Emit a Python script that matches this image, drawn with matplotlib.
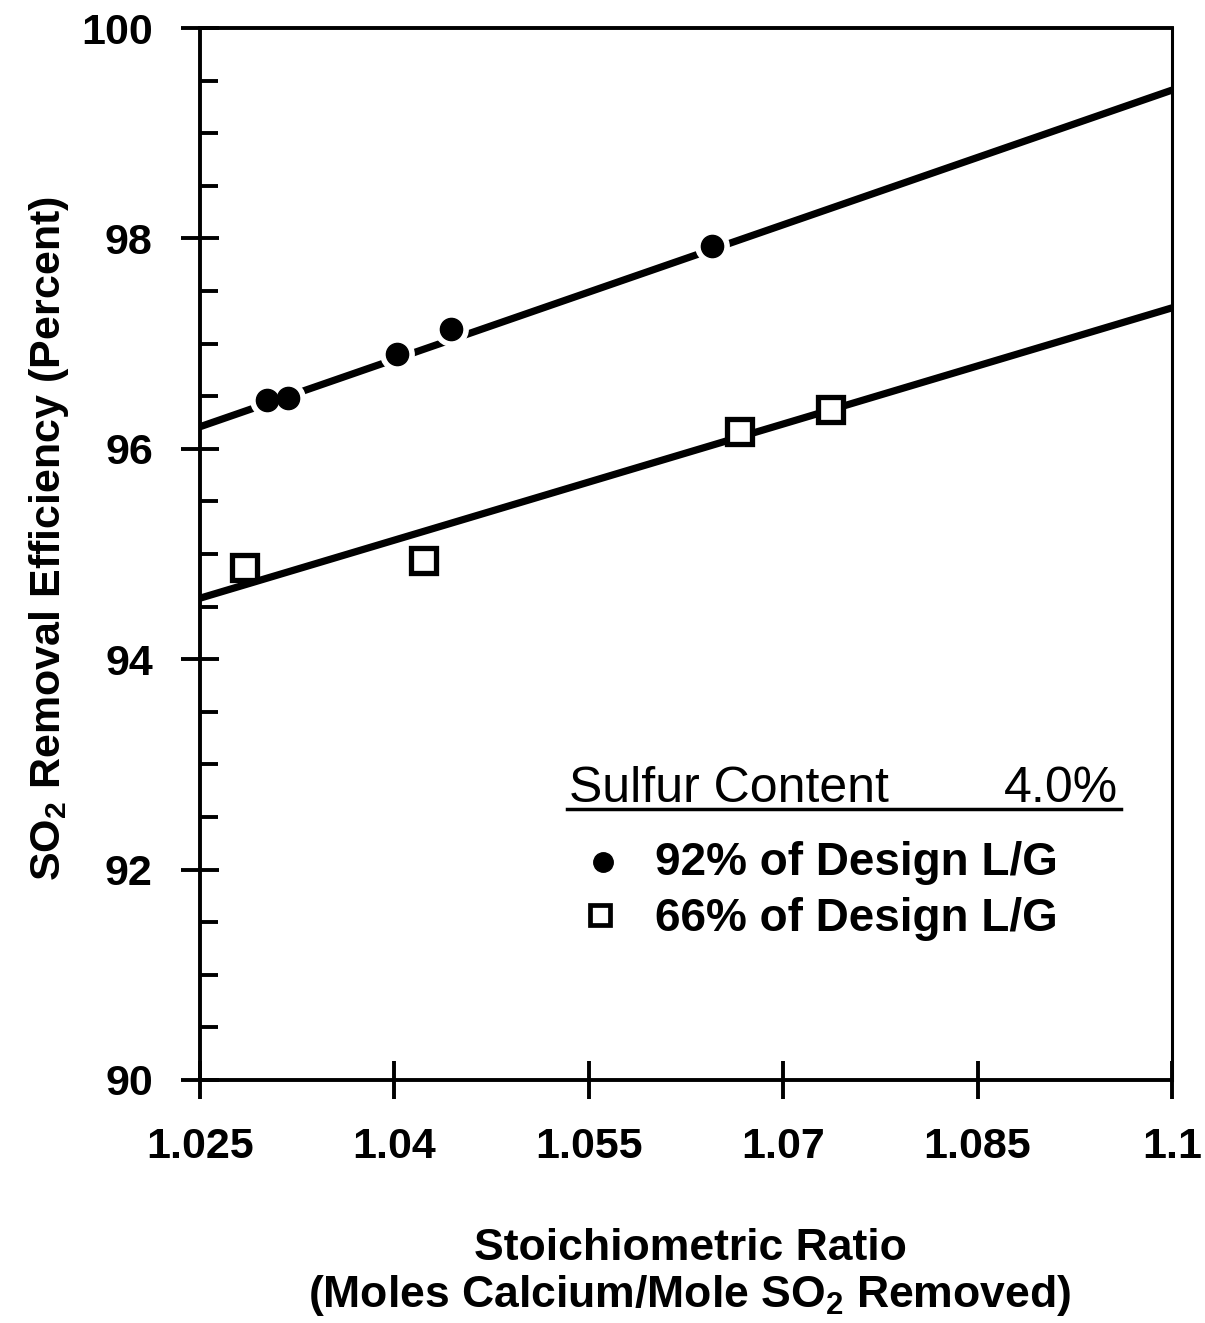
import matplotlib
matplotlib.use("Agg")
import matplotlib.pyplot as plt
from matplotlib.ticker import MultipleLocator, FixedLocator

plt.rcParams['font.family'] = ['Liberation Sans', 'DejaVu Sans']

# Measured points
ratio_92 = [1.0302, 1.0318, 1.0402, 1.0444, 1.0645]
eff_92 = [96.46, 96.48, 96.90, 97.14, 97.93]
ratio_66 = [1.0284, 1.0422, 1.0666, 1.0736]
eff_66 = [94.88, 94.94, 96.17, 96.38]

# Fitted lines (end points across the axis range)
fit_x = [1.025, 1.1]
fit_92 = [96.21, 99.41]
fit_66 = [94.58, 97.34]

x_ticks = [1.025, 1.04, 1.055, 1.07, 1.085, 1.1]
x_tick_labels = ["1.025", "1.04", "1.055", "1.07", "1.085", "1.1"]
y_ticks = [90, 92, 94, 96, 98, 100]

fig = plt.figure(figsize=(12.05, 13.23), dpi=100)
ax = fig.add_axes([0.166, 0.1837, 0.8066, 0.7951])

ax.plot(fit_x, fit_92, color='black', lw=5.2, solid_capstyle='butt', zorder=2)
ax.plot(fit_x, fit_66, color='black', lw=5.2, solid_capstyle='butt', zorder=2)

# white halo around filled circles so the line breaks at each point
ax.plot(ratio_92, eff_92, 'o', ms=24, color='white', zorder=3)
ax.plot(ratio_92, eff_92, 'o', ms=16, color='black', zorder=4)
ax.plot(ratio_66, eff_66, 's', ms=18, mfc='white', mec='black', mew=3.8, zorder=4)

ax.set_xlim(1.025, 1.1)
ax.set_ylim(90, 100)
ax.xaxis.set_major_locator(FixedLocator(x_ticks))
ax.set_xticklabels(x_tick_labels)
ax.yaxis.set_major_locator(FixedLocator(y_ticks))
ax.yaxis.set_minor_locator(MultipleLocator(0.5))

for s in ax.spines.values():
    s.set_linewidth(2.8)
ax.spines['right'].set_linewidth(2.2)

ax.tick_params(axis='both', which='major', direction='inout', length=28, width=2.8,
               labelsize=31)
ax.tick_params(axis='x', pad=20)
ax.tick_params(axis='y', pad=20)
ax.tick_params(axis='y', which='minor', direction='in', length=13, width=2.8)
ax.tick_params(axis='x', which='minor', bottom=False)
for lab in ax.get_xticklabels() + ax.get_yticklabels():
    lab.set_fontweight('bold')

ax.set_ylabel("SO$_\\mathregular{2}$ Removal Efficiency (Percent)", fontsize=31,
              fontweight='bold')
ax.yaxis.set_label_coords(-0.133, 0.515)
fig.text(0.5726, 0.0718, "Stoichiometric Ratio\n(Moles Calcium/Mole SO$_\\mathregular{2}$ Removed)",
         ha='center', va='top', fontsize=32, fontweight='bold', linespacing=1.12)

# legend block
ax.text(1.0535, 92.64, "Sulfur Content", fontsize=36, ha='left', va='baseline')
ax.text(1.0958, 92.64, "4.0%", fontsize=36, ha='right', va='baseline')
ax.plot([1.0533, 1.0961], [92.58, 92.58], color='black', lw=2.5, clip_on=False)
ax.plot([1.0561], [92.07], 'o', ms=14, color='black')
ax.plot([1.0559], [91.57], 's', ms=14, mfc='white', mec='black', mew=3.4)
ax.text(1.0601, 92.06, "92% of Design L/G", fontsize=33, fontweight='bold',
        ha='left', va='center')
ax.text(1.0601, 91.53, "66% of Design L/G", fontsize=33, fontweight='bold',
        ha='left', va='center')

fig.savefig("out.png", dpi=100)
